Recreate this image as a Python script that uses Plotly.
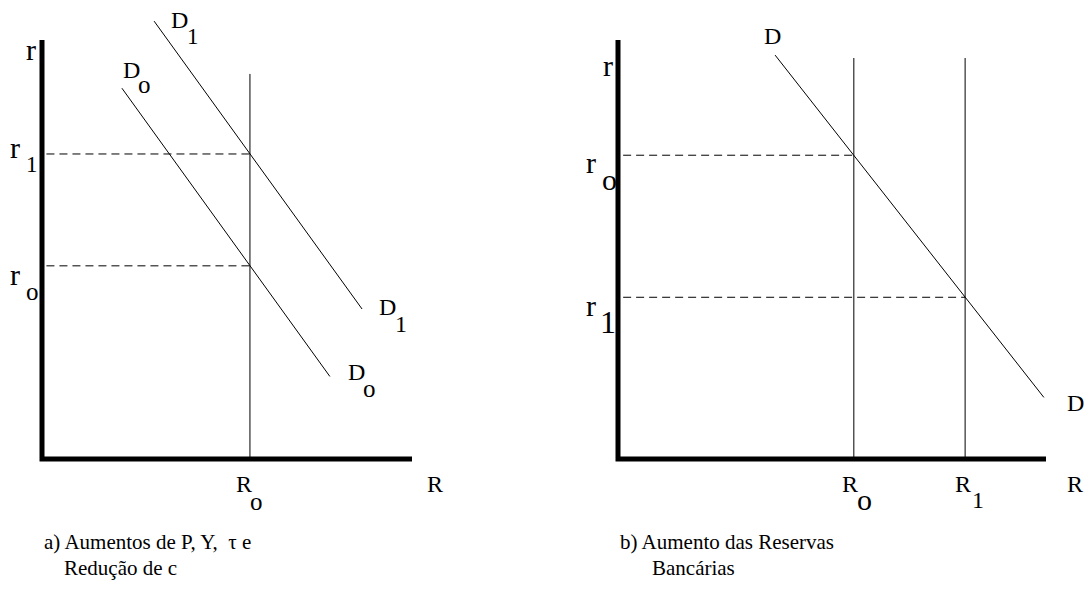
import plotly.graph_objects as go

# ---------------- data (arbitrary diagram units, axes run 0..10) ----------------
# Panel a) Aumentos de P, Y, tau e Redução de c
a_R0 = 5.62
a_r0 = 4.61
a_r1 = 7.28
a_R0_top = 9.19
a_D0_x = [2.16, 7.78]
a_D0_y = [8.85, 1.97]
a_D1_x = [3.03, 8.65]
a_D1_y = [10.45, 3.58]

# Panel b) Aumento das Reservas Bancárias
b_R0 = 5.51
b_R1 = 8.11
b_r0 = 7.25
b_r1 = 3.86
b_R_top = 9.57
b_D_x = [3.67, 9.95]
b_D_y = [9.64, 1.47]

axis_len = 10
dash_start = 0.12

caption_a = ["a) Aumentos de P, Y,  \u03c4 e", "Redução de c"]
caption_b = ["b) Aumento das Reservas", "Bancárias"]

FONT = "Liberation Serif, Times New Roman, serif"
BLACK = "#000000"

fig = go.Figure()

def line(x, y, xa, ya, width=1.0, dash=None):
    fig.add_trace(go.Scatter(
        x=x, y=y, mode="lines", xaxis=xa, yaxis=ya,
        line=dict(color=BLACK, width=width, dash=dash),
        hoverinfo="skip", showlegend=False))

# ---- panel a ----
line([0, 0, axis_len], [axis_len, 0, 0], "x", "y", width=5)
line([a_R0, a_R0], [0, a_R0_top], "x", "y")
line([dash_start, a_R0], [a_r1, a_r1], "x", "y", dash="8px,5px")
line([dash_start, a_R0], [a_r0, a_r0], "x", "y", dash="8px,5px")
line(a_D1_x, a_D1_y, "x", "y")
line(a_D0_x, a_D0_y, "x", "y")

# ---- panel b ----
line([0, 0, axis_len], [axis_len, 0, 0], "x2", "y2", width=5)
line([b_R0, b_R0], [0, b_R_top], "x2", "y2")
line([b_R1, b_R1], [0, b_R_top], "x2", "y2")
line([dash_start, b_R0], [b_r0, b_r0], "x2", "y2", dash="8px,5px")
line([dash_start, b_R1], [b_r1, b_r1], "x2", "y2", dash="8px,5px")
line(b_D_x, b_D_y, "x2", "y2")

ann = []

def lab(text, x, y, xr, yr, size=24, xanchor="center"):
    ann.append(dict(text=text, x=x, y=y, xref=xr, yref=yr, showarrow=False,
                    xanchor=xanchor, yanchor="middle",
                    font=dict(family=FONT, size=size, color=BLACK)))

# panel a labels
lab("r", -0.31, 9.78, "x", "y", 30)
lab("D", 3.72, 10.48, "x", "y")
lab("1", 4.07, 10.09, "x", "y", 23)
lab("D", 2.41, 9.29, "x", "y")
lab("o", 2.78, 8.95, "x", "y", 25)
lab("r", -0.73, 7.44, "x", "y", 30)
lab("1", -0.27, 7.02, "x", "y", 23)
lab("r", -0.73, 4.41, "x", "y", 30)
lab("o", -0.26, 3.99, "x", "y", 25)
lab("D", 9.34, 3.63, "x", "y")
lab("1", 9.70, 3.23, "x", "y", 24)
lab("D", 8.49, 2.08, "x", "y")
lab("o", 8.84, 1.69, "x", "y", 25)
lab("R", 5.45, -0.59, "x", "y")
lab("o", 5.80, -1.02, "x", "y", 25)
lab("R", 10.62, -0.59, "x", "y")

# panel b labels
lab("r", -0.23, 9.40, "x2", "y2", 30)
lab("D", 3.60, 10.10, "x2", "y2")
lab("r", -0.64, 7.08, "x2", "y2", 30)
lab("o", -0.21, 6.67, "x2", "y2", 30)
lab("r", -0.64, 3.66, "x2", "y2", 30)
lab("1", -0.23, 3.27, "x2", "y2", 32)
lab("D", 10.70, 1.33, "x2", "y2")
lab("R", 5.43, -0.59, "x2", "y2")
lab("o", 5.77, -0.96, "x2", "y2", 30)
lab("R", 8.05, -0.59, "x2", "y2")
lab("1", 8.40, -0.98, "x2", "y2", 24)
lab("R", 10.68, -0.59, "x2", "y2")

# captions
lab(caption_a[0], 0.0, -1.98, "x", "y", 21, "left")
lab(caption_a[1], 0.55, -2.60, "x", "y", 21, "left")
lab(caption_b[0], 0.0, -1.98, "x2", "y2", 21, "left")
lab(caption_b[1], 0.75, -2.60, "x2", "y2", 21, "left")

common_ax = dict(visible=False, fixedrange=True)
fig.update_layout(
    width=1090, height=609,
    margin=dict(l=0, r=0, t=0, b=0),
    paper_bgcolor="white", plot_bgcolor="white",
    showlegend=False,
    xaxis=dict(domain=[0, 0.5], range=[-42 / 37, 503 / 37], **common_ax),
    yaxis=dict(domain=[0, 1], range=[-150 / 41.9, 459 / 41.9], **common_ax),
    xaxis2=dict(domain=[0.5, 1], range=[-73 / 42.8, 472 / 42.8], anchor="y2", **common_ax),
    yaxis2=dict(domain=[0, 1], range=[-150 / 41.9, 459 / 41.9], anchor="x2", **common_ax),
    annotations=ann,
)

fig.write_html(
    "out.html",
    config={"displayModeBar": False},
    post_script="document.body.style.margin='0';document.body.style.overflow='hidden';",
)
